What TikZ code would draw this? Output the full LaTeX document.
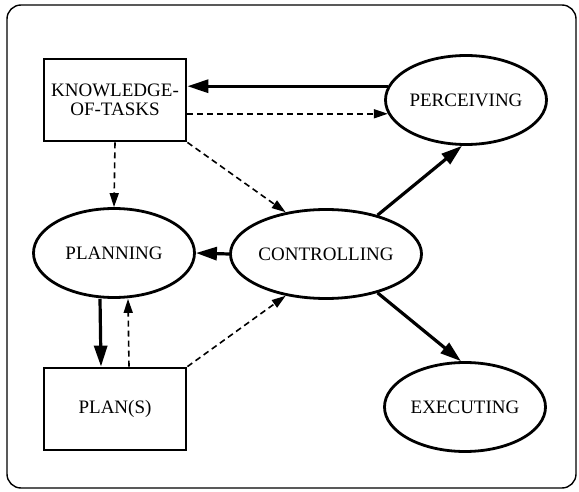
\documentclass[tikz,border=0pt]{standalone}
\usepackage{fontspec}
\setmainfont{Liberation Serif}
\usetikzlibrary{shapes.geometric,arrows.meta,positioning}

\begin{document}
\begin{tikzpicture}[
    x=1pt, y=-1pt,
    box/.style={rectangle, draw, line width=2.8pt, minimum width=142, minimum height=82, inner sep=0pt, align=center, font=\fontsize{19}{19.5}\selectfont},
    oval/.style={ellipse, draw, line width=2.8pt, minimum width=161, minimum height=89, inner sep=0pt, font=\fontsize{19}{19.5}\selectfont},
    solidarrow/.style={line width=3.2pt, -{Triangle[length=21pt, width=13pt]}},
    dasharrow/.style={line width=1.6pt, dash pattern=on 6pt off 4pt, -{Triangle[length=14pt, width=9pt]}}
]
    \useasboundingbox (0,0) rectangle (579,492);
    \draw[line width=1.4pt, rounded corners=14pt] (7,5) rectangle (576,488);

    \node[box] (know) at (115,100) {KNOWLEDGE-\\OF-TASKS};
    \node[oval] (perc) at (466,100) {PERCEIVING};
    \node[oval] (plan) at (114,253) {PLANNING};
    \node[oval] (ctrl) at (326,254) {CONTROLLING};
    \node[box] (plans) at (115,409) {PLAN(S)};
    \node[oval] (exec) at (465,407) {EXECUTING};

    % Solid control flow
    \draw[solidarrow] (perc.170) -- (perc.170 -| know.east);
    \draw[solidarrow] (ctrl.west) -- (plan.east);
    \draw[solidarrow] ([xshift=-14pt]plan.south) -- ([xshift=-14pt]plans.north);
    \draw[solidarrow] (ctrl.37) -- (perc.265);
    \draw[solidarrow] (ctrl.323) -- (exec.95);

    % Dashed information flow
    \draw[dasharrow] (know.east |- perc.190) -- (perc.190);
    \draw[dasharrow] (know.south) -- (plan.north);
    \draw[dasharrow] (know.south east) -- (ctrl.134);
    \draw[dasharrow] ([xshift=14pt]plans.north) -- ([xshift=14pt]plan.south);
    \draw[dasharrow] (plans.north east) -- (ctrl.226);
\end{tikzpicture}
\end{document}
